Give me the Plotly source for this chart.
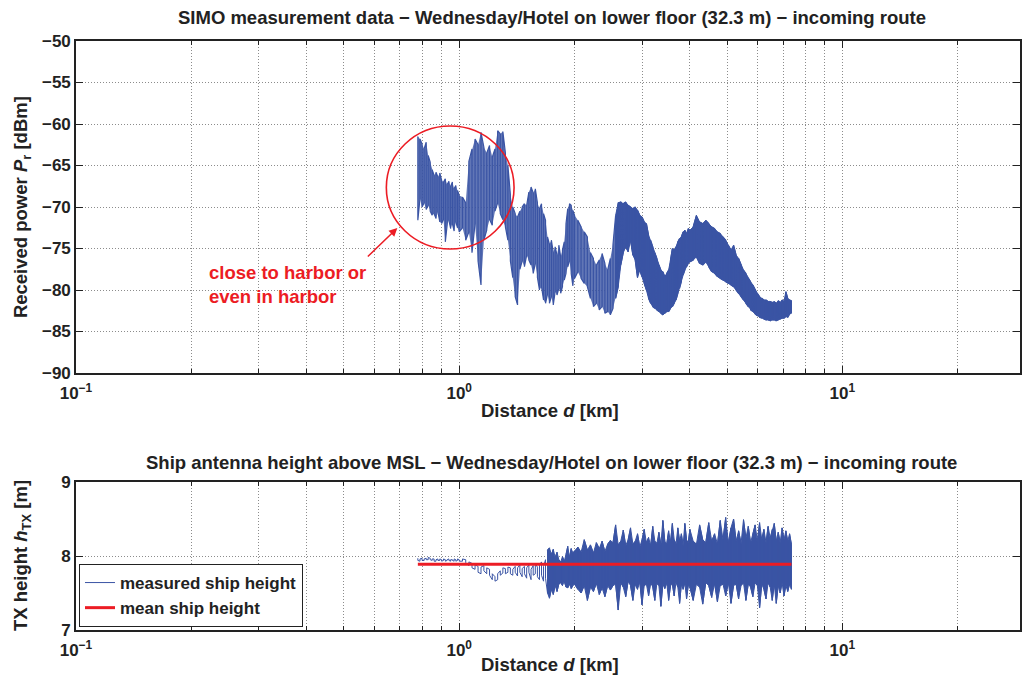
import plotly.graph_objects as go

# ---------------- data ----------------
distance_km = [
    0.78, 0.79, 0.80, 0.81, 0.82, 0.83, 0.84, 0.85, 0.86, 0.87, 0.88, 0.89, 0.90, 0.91, 0.92, 0.93,
    0.94, 0.95, 0.96, 0.97, 0.98, 0.99, 1.00,
    1.02, 1.04, 1.06, 1.08, 1.10, 1.12, 1.14, 1.16, 1.18, 1.20, 1.22, 1.24, 1.26, 1.28, 1.30, 1.32,
    1.34, 1.36, 1.38, 1.40, 1.42, 1.44, 1.46, 1.48, 1.50, 1.52, 1.54, 1.56, 1.58, 1.60, 1.62, 1.64,
    1.66, 1.68, 1.70, 1.72, 1.74, 1.76, 1.78, 1.80, 1.82, 1.84, 1.86, 1.88, 1.90, 1.92, 1.94, 1.96,
    1.98, 2.00,
    2.04, 2.08, 2.12, 2.16, 2.20, 2.24, 2.28, 2.32, 2.36, 2.40, 2.44, 2.48, 2.52, 2.56, 2.60, 2.64,
    2.68, 2.72, 2.76, 2.80, 2.84, 2.88, 2.92, 2.96, 3.00, 3.04, 3.08, 3.12, 3.16, 3.20, 3.24, 3.28,
    3.32, 3.36, 3.40, 3.44, 3.48, 3.52, 3.56, 3.60, 3.64, 3.68, 3.72, 3.76, 3.80, 3.84, 3.88, 3.92,
    3.96, 4.00,
    4.08, 4.16, 4.24, 4.32, 4.40, 4.48, 4.56, 4.64, 4.72, 4.80, 4.88, 4.96, 5.04, 5.12, 5.20, 5.28,
    5.36, 5.44, 5.52, 5.60, 5.68, 5.76, 5.84, 5.92, 6.00, 6.08, 6.16, 6.24, 6.32, 6.40, 6.48, 6.56,
    6.64, 6.72, 6.80, 6.88, 6.96, 7.04, 7.12, 7.20, 7.28, 7.36,
]

# received power: local maximum / minimum around each distance [dBm]
power_max_dbm = [
    -61.5, -61.8, -62.4, -63.0, -62.2, -63.8, -64.6, -65.5, -66.2, -65.8, -66.4, -65.9, -66.8, -67.0, -66.6, -67.3,
    -66.9, -67.5, -67.0, -67.8, -67.4, -68.0, -68.6,
    -68.8, -69.5, -64.5, -63.0, -61.8, -62.5, -61.0, -62.8, -63.5, -62.6, -64.0, -63.0, -60.8, -61.2, -60.9, -63.5,
    -65.0, -68.5, -70.0, -70.8, -71.2, -70.5, -70.0, -69.6, -69.8, -68.2, -67.6, -68.3, -67.8, -69.5, -70.2, -69.6,
    -70.8, -71.6, -73.6, -74.5, -74.0, -75.5, -74.8, -75.8, -74.6, -76.0, -75.2, -74.2, -72.0, -70.2, -69.6, -69.8,
    -70.4, -71.0,
    -71.6, -72.4, -73.0, -73.6, -75.5, -76.2, -77.0, -76.4, -75.6, -76.8, -77.6, -76.2, -74.5, -71.0, -69.5, -69.4,
    -69.6, -69.4, -69.8, -70.0, -70.2, -70.0, -70.4, -71.0, -71.2, -71.8, -72.0, -73.4, -74.0, -74.8, -75.5, -76.2,
    -77.0, -77.6, -77.8, -78.4, -78.0, -77.6, -76.4, -75.0, -75.2, -74.8, -74.2, -73.8, -73.6, -73.0, -72.8, -73.2,
    -72.6, -72.8,
    -72.4, -71.0, -71.8, -72.0, -71.6, -72.0, -72.4, -72.6, -73.0, -73.2, -73.6, -74.0, -74.6, -75.2, -74.6, -75.8,
    -76.2, -77.0, -77.6, -78.0, -78.6, -79.0, -79.4, -80.0, -80.4, -80.8, -81.0, -81.2, -81.2, -81.4, -81.4, -81.5,
    -81.4, -81.6, -81.3, -81.5, -81.2, -81.4, -80.2, -81.0, -81.2, -81.3,
]
power_min_dbm = [
    -71.6, -69.0, -70.0, -69.5, -70.3, -69.8, -70.5, -71.0, -70.8, -71.4, -70.6, -71.8, -72.0, -71.5, -74.2, -72.2,
    -71.6, -72.6, -72.0, -72.9, -71.8, -72.5, -73.0,
    -72.5, -74.0, -73.0, -75.5, -72.0, -76.5, -79.4, -74.0, -72.8, -71.5, -72.2, -70.5, -69.5, -70.8, -71.5, -72.4,
    -74.0, -76.5, -78.5, -80.8, -81.8, -77.5, -76.5, -77.2, -75.8, -76.4, -77.0, -78.0, -76.8, -78.5, -80.0, -79.6,
    -81.2, -81.6, -80.5, -81.6, -80.8, -81.8, -80.2, -80.6, -79.8, -80.4, -79.6, -78.8, -78.0, -77.2, -76.5, -78.0,
    -79.5, -78.6,
    -77.8, -78.6, -79.2, -79.6, -81.0, -82.0, -81.6, -82.4, -82.0, -82.8, -82.6, -83.0, -82.2, -81.0, -79.6, -77.0,
    -75.5, -74.8, -75.4, -74.0, -75.8, -76.4, -78.5, -77.6, -78.4, -79.2, -80.0, -81.0, -81.6, -82.0, -82.2, -82.4,
    -82.6, -82.8, -83.0, -82.8, -82.6, -82.6, -82.2, -82.0, -81.6, -81.2, -80.4, -79.8, -79.0, -78.2, -77.6, -77.2,
    -76.8, -76.6,
    -76.4, -76.0, -76.8, -77.0, -76.6, -77.2, -77.8, -78.0, -78.4, -78.6, -78.8, -79.0, -79.2, -79.4, -79.6, -80.0,
    -80.4, -80.8, -81.2, -81.6, -82.0, -82.4, -82.6, -82.9, -83.1, -83.3, -83.4, -83.5, -83.6, -83.6, -83.7, -83.6,
    -83.6, -83.7, -83.6, -83.5, -83.4, -83.4, -83.2, -83.3, -82.9, -82.8,
]

# ship antenna height: local maximum / minimum around each distance [m]
height_max_m = [
    7.97, 7.96, 7.97, 7.96, 7.97, 7.98, 7.97, 7.96, 7.96, 7.95, 7.96, 7.96, 7.95, 7.96, 7.95, 7.95,
    7.96, 7.95, 7.95, 7.96, 7.95, 7.96, 7.95,
    7.96, 7.95, 7.92, 7.90, 7.88, 7.86, 7.85, 7.87, 7.84, 7.82, 7.76, 7.72, 7.76, 7.80, 7.84, 7.83,
    7.85, 7.84, 7.82, 7.86, 7.84, 7.88, 7.83, 7.86, 7.84, 7.88, 7.82, 7.87, 7.90, 7.85, 7.88, 7.92,
    7.86, 7.95, 8.08, 8.11, 8.02, 8.09, 7.98, 8.05, 7.95, 7.92, 7.99, 7.93, 8.02, 8.13, 7.98, 8.10,
    8.04, 8.07,
    8.12, 8.05, 8.22, 8.08, 8.15, 8.04, 8.18, 8.10, 8.20, 8.06, 8.16, 8.21, 8.18, 8.42, 8.15, 8.20,
    8.35, 8.14, 8.22, 8.38, 8.16, 8.20, 8.30, 8.12, 8.22, 8.36, 8.18, 8.25, 8.14, 8.40, 8.20, 8.17,
    8.32, 8.15, 8.48, 8.20, 8.16, 8.34, 8.18, 8.44, 8.22, 8.16, 8.38, 8.20, 8.30, 8.14, 8.44, 8.22,
    8.18, 8.36,
    8.20, 8.16, 8.42, 8.22, 8.18, 8.45, 8.20, 8.30, 8.16, 8.48, 8.22, 8.52, 8.18, 8.38, 8.50, 8.20,
    8.34, 8.17, 8.49, 8.24, 8.40, 8.18, 8.30, 8.42, 8.20, 8.45, 8.22, 8.36, 8.18, 8.40, 8.24, 8.36,
    8.44, 8.20, 8.32, 8.18, 8.38, 8.22, 8.34, 8.20, 8.30, 8.16,
]
height_min_m = [
    7.94, 7.93, 7.94, 7.94, 7.95, 7.95, 7.95, 7.94, 7.93, 7.93, 7.94, 7.94, 7.93, 7.94, 7.93, 7.94,
    7.94, 7.93, 7.94, 7.93, 7.93, 7.94, 7.93,
    7.93, 7.91, 7.87, 7.84, 7.82, 7.78, 7.76, 7.80, 7.76, 7.74, 7.68, 7.66, 7.68, 7.74, 7.77, 7.76,
    7.78, 7.76, 7.74, 7.78, 7.73, 7.78, 7.72, 7.76, 7.70, 7.78, 7.68, 7.74, 7.76, 7.72, 7.68, 7.74,
    7.66, 7.70, 7.50, 7.43, 7.55, 7.48, 7.60, 7.52, 7.62, 7.64, 7.60, 7.66, 7.58, 7.57, 7.62, 7.56,
    7.60, 7.62,
    7.55, 7.50, 7.60, 7.40, 7.58, 7.52, 7.63, 7.48, 7.57, 7.45, 7.60, 7.54, 7.60, 7.62, 7.27, 7.64,
    7.58, 7.45, 7.66, 7.60, 7.40, 7.62, 7.55, 7.65, 7.34, 7.60, 7.62, 7.46, 7.64, 7.58, 7.40, 7.63,
    7.60, 7.32, 7.62, 7.56, 7.64, 7.40, 7.60, 7.62, 7.46, 7.65, 7.58, 7.36, 7.62, 7.55, 7.64, 7.42,
    7.60, 7.58,
    7.40, 7.62, 7.58, 7.35, 7.64, 7.60, 7.44, 7.63, 7.38, 7.60, 7.62, 7.46, 7.64, 7.36, 7.60, 7.62,
    7.42, 7.60, 7.64, 7.40, 7.62, 7.58, 7.45, 7.64, 7.60, 7.30, 7.62, 7.55, 7.42, 7.64, 7.58, 7.40,
    7.62, 7.36, 7.60, 7.50, 7.64, 7.46, 7.60, 7.52, 7.62, 7.55,
]
mean_height_m = 7.89

# where the measured traces become a dense, solid band [km]
power_dense_from_km = 2.56
height_dense_from_km = 1.70

x_tick_vals = [0.1, 1, 10]
x_tick_text = ["10<sup>\u22121</sup>", "10<sup>0</sup>", "10<sup>1</sup>"]
x_minor_vals = [0.2, 0.3, 0.4, 0.5, 0.6, 0.7, 0.8, 0.9, 2, 3, 4, 5, 6, 7, 8, 9, 20]
power_ticks = [-90, -85, -80, -75, -70, -65, -60, -55, -50]
height_ticks = [7, 8, 9]

# ---------------- styling ----------------
BLUE = "#3a54a4"
BLUE_SOFT = "rgba(58,84,164,0.8)"
RED = "#ec1c24"
GRID = "#8c8c8c"
INK = "#222222"
FONT = "Liberation Sans, Arial, Helvetica, sans-serif"
TICKFONT = dict(family=FONT, size=17, color=INK, weight="bold")
TXT = 18.5


def minmax_path(d, hi, lo):
    """Order each distance's max/min pair so the line sweeps through them."""
    xs, ys = [], []
    for i, (dd, h, l) in enumerate(zip(d, hi, lo)):
        xs += [dd, dd]
        ys += [h, l] if i % 2 == 0 else [l, h]
    return xs, ys


def band(d, hi, lo, d_from=None):
    """Closed outline: maxima forward, minima backward (optionally from d_from on)."""
    idx = [i for i, dd in enumerate(d) if d_from is None or dd >= d_from]
    dd = [d[i] for i in idx]
    return dd + dd[::-1], [hi[i] for i in idx] + [lo[i] for i in idx][::-1]


fig = go.Figure()

# ---- received power ----
bx, by = band(distance_km, power_max_dbm, power_min_dbm)
fig.add_trace(go.Scatter(x=bx, y=by, mode="lines", fill="toself", fillcolor=BLUE_SOFT,
                         line=dict(width=0), showlegend=False,
                         xaxis="x", yaxis="y", hoverinfo="skip"))
bx, by = band(distance_km, power_max_dbm, power_min_dbm, power_dense_from_km)
fig.add_trace(go.Scatter(x=bx, y=by, mode="lines", fill="toself", fillcolor=BLUE,
                         line=dict(color=BLUE, width=1), showlegend=False,
                         xaxis="x", yaxis="y", hoverinfo="skip"))
p_x, p_y = minmax_path(distance_km, power_max_dbm, power_min_dbm)
fig.add_trace(go.Scatter(x=p_x, y=p_y, mode="lines", line=dict(color=BLUE, width=1.2),
                         showlegend=False, xaxis="x", yaxis="y", hoverinfo="skip"))

# ---- ship height ----
hbx, hby = band(distance_km, height_max_m, height_min_m, height_dense_from_km)
fig.add_trace(go.Scatter(x=hbx, y=hby, mode="lines", fill="toself", fillcolor=BLUE,
                         line=dict(color=BLUE, width=1), showlegend=False,
                         xaxis="x2", yaxis="y2", hoverinfo="skip"))
h_x, h_y = minmax_path(distance_km, height_max_m, height_min_m)
fig.add_trace(go.Scatter(x=h_x, y=h_y, mode="lines", line=dict(color=BLUE, width=1),
                         name="measured ship height", xaxis="x2", yaxis="y2", hoverinfo="skip"))
fig.add_trace(go.Scatter(x=[distance_km[0], distance_km[-1]], y=[mean_height_m, mean_height_m],
                         mode="lines", line=dict(color=RED, width=3),
                         name="mean ship height", xaxis="x2", yaxis="y2", hoverinfo="skip"))

L, R, T, B = 76, 1, 41, 50
W, H = 1023, 680
PW, PH = W - L - R, H - T - B


def px(xp):
    return (xp - L) / PW


def py(yp):
    return (H - B - yp) / PH


DOTS = "1px,2px"
xaxis_common = dict(
    type="log", range=[-1, 1.4635],
    tickmode="array", tickvals=x_tick_vals, ticktext=x_tick_text,
    showgrid=True, gridcolor=GRID, griddash=DOTS, gridwidth=1,
    minor=dict(tickmode="array", tickvals=x_minor_vals, showgrid=True, gridcolor=GRID,
               griddash=DOTS, gridwidth=1, ticks="inside", ticklen=4, tickcolor=INK),
    ticks="inside", ticklen=7, tickcolor=INK, tickwidth=1,
    showline=True, linecolor=INK, linewidth=1.6, mirror="ticks",
    zeroline=False, tickfont=TICKFONT, ticklabelstandoff=4,
)
yaxis_common = dict(
    showgrid=True, gridcolor=GRID, griddash=DOTS, gridwidth=1,
    ticks="inside", ticklen=7, tickcolor=INK, tickwidth=1,
    showline=True, linecolor=INK, linewidth=1.6, mirror="ticks",
    zeroline=False, tickfont=TICKFONT,
)

top_dom = [py(373), 1.0]
bot_dom = [0.0, py(482)]

fig.update_layout(
    width=W, height=H,
    margin=dict(l=L, r=R, t=T, b=B, pad=0),
    paper_bgcolor="white", plot_bgcolor="white",
    font=dict(family=FONT, color=INK),
    xaxis=dict(xaxis_common, domain=[0, 1], anchor="y"),
    yaxis=dict(yaxis_common, domain=top_dom, anchor="x", range=[-90, -50],
               tickmode="array", tickvals=power_ticks),
    xaxis2=dict(xaxis_common, domain=[0, 1], anchor="y2"),
    yaxis2=dict(yaxis_common, domain=bot_dom, anchor="x2", range=[7, 9],
                tickmode="array", tickvals=height_ticks),
    showlegend=True,
    legend=dict(x=px(79), y=py(627), xanchor="left", yanchor="bottom",
                bgcolor="white", bordercolor=INK, borderwidth=1,
                font=dict(family=FONT, size=17, color=INK, weight="bold"),
                tracegroupgap=0, itemwidth=30),
)

ann_font = dict(family=FONT, size=TXT, color=INK, weight="bold")
red_font = dict(family=FONT, size=TXT, color=RED, weight="bold")
annotations = [
    dict(text="SIMO measurement data \u2212 Wednesday/Hotel on lower floor (32.3 m) \u2212 incoming route",
         x=px(553), y=py(17), xref="paper", yref="paper", showarrow=False,
         xanchor="center", yanchor="middle", font=ann_font),
    dict(text="Ship antenna height above MSL \u2212 Wednesday/Hotel on lower floor (32.3 m) \u2212 incoming route",
         x=px(553), y=py(462), xref="paper", yref="paper", showarrow=False,
         xanchor="center", yanchor="middle", font=ann_font),
    dict(text="Distance <i>d</i> [km]", x=px(551), y=py(410), xref="paper", yref="paper",
         showarrow=False, xanchor="center", yanchor="middle", font=ann_font),
    dict(text="Distance <i>d</i> [km]", x=px(551), y=py(664), xref="paper", yref="paper",
         showarrow=False, xanchor="center", yanchor="middle", font=ann_font),
    dict(text="Received power <i>P</i><sub>r</sub> [dBm]", x=px(22), y=py(207), xref="paper",
         yref="paper", showarrow=False, textangle=-90, xanchor="center", yanchor="middle",
         font=ann_font),
    dict(text="TX height <i>h</i><sub>TX</sub> [m]", x=px(22), y=py(556), xref="paper",
         yref="paper", showarrow=False, textangle=-90, xanchor="center", yanchor="middle",
         font=ann_font),
    dict(text="close to harbor or", x=px(207), y=py(272), xref="paper", yref="paper",
         showarrow=False, xanchor="left", yanchor="middle", font=red_font),
    dict(text="even in harbor", x=px(207), y=py(296), xref="paper", yref="paper",
         showarrow=False, xanchor="left", yanchor="middle", font=red_font),
    dict(text="", x=px(398), y=py(228), xref="paper", yref="paper", showarrow=True,
         ax=-31, ay=30, axref="pixel", ayref="pixel", arrowhead=2, arrowsize=1.1,
         arrowwidth=1.5, arrowcolor=RED),
]
fig.update_layout(annotations=annotations)

fig.add_shape(type="circle", xref="paper", yref="paper",
              x0=px(387), x1=px(515), y0=py(249), y1=py(126),
              line=dict(color=RED, width=1.6))

fig.write_html("out.html")
